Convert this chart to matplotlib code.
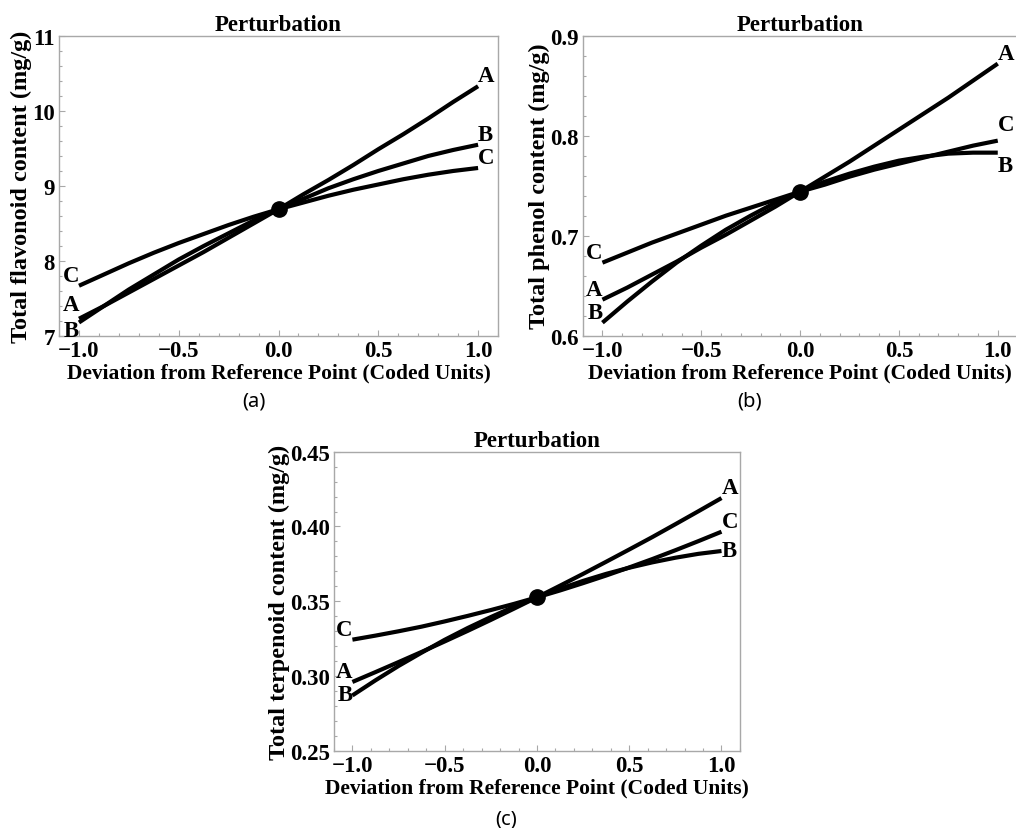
import matplotlib
matplotlib.use("Agg")
import matplotlib.pyplot as plt
from matplotlib.ticker import AutoMinorLocator

# coded deviation from the reference point
x_coded = [-1.0, -0.875, -0.75, -0.625, -0.5, -0.375, -0.25, -0.125, 0.0,
           0.125, 0.25, 0.375, 0.5, 0.625, 0.75, 0.875, 1.0]

# (a) total flavonoid content, mg/g
flav_A = [7.23, 7.40, 7.58, 7.76, 7.94, 8.12, 8.31, 8.50, 8.69,
          8.89, 9.08, 9.28, 9.49, 9.69, 9.90, 10.12, 10.33]
flav_B = [7.18, 7.40, 7.62, 7.82, 8.02, 8.20, 8.37, 8.54, 8.69,
          8.83, 8.97, 9.09, 9.20, 9.30, 9.40, 9.48, 9.55]
flav_C = [7.67, 7.82, 7.97, 8.11, 8.24, 8.36, 8.48, 8.59, 8.69,
          8.78, 8.87, 8.95, 9.02, 9.09, 9.15, 9.20, 9.24]

# (b) total phenol content, mg/g
phen_A = [0.636, 0.648, 0.661, 0.674, 0.688, 0.701, 0.715, 0.729, 0.744,
          0.759, 0.774, 0.790, 0.806, 0.822, 0.838, 0.855, 0.872]
phen_B = [0.613, 0.634, 0.654, 0.673, 0.690, 0.706, 0.720, 0.733, 0.744,
          0.754, 0.762, 0.769, 0.775, 0.779, 0.782, 0.783, 0.783]
phen_C = [0.673, 0.683, 0.693, 0.702, 0.711, 0.720, 0.728, 0.736, 0.744,
          0.751, 0.759, 0.766, 0.772, 0.778, 0.784, 0.790, 0.795]

# (c) total terpenoid content, mg/g
terp_A = [0.2960, 0.3026, 0.3093, 0.3161, 0.3231, 0.3302, 0.3375, 0.3450, 0.3526,
          0.3604, 0.3683, 0.3764, 0.3846, 0.3929, 0.4015, 0.4102, 0.4190]
terp_B = [0.2870, 0.2971, 0.3067, 0.3156, 0.3242, 0.3321, 0.3394, 0.3463, 0.3526,
          0.3583, 0.3636, 0.3683, 0.3724, 0.3760, 0.3791, 0.3817, 0.3836]
terp_C = [0.3243, 0.3270, 0.3299, 0.3330, 0.3365, 0.3402, 0.3441, 0.3482, 0.3526,
          0.3572, 0.3621, 0.3672, 0.3726, 0.3782, 0.3841, 0.3902, 0.3965]

ref_point = {"a": 8.69, "b": 0.744, "c": 0.3526}

SERIF = "Liberation Serif"
GRAY = "#a8a8a8"

fig = plt.figure(figsize=(10.16, 8.29), dpi=100)


def panel(rect, series, ylim, yticks, ylabel, yfmt, ref, label_style):
    ax = fig.add_axes(rect)
    for name, ys in series.items():
        ax.plot(x_coded, ys, color="black", lw=3, solid_capstyle="butt")
    ax.plot([0], [ref], "o", color="black", ms=11, zorder=5)

    # A/B/C labels at both ends of each curve
    for name, ys in series.items():
        for end, xi, yi in (("L", x_coded[0], ys[0]), ("R", x_coded[-1], ys[-1])):
            ha, va, dy = label_style.get((name, end), ("right" if end == "L" else "left", "bottom", 0))
            ax.annotate(name, (xi, yi), xytext=(0, dy), textcoords="offset points",
                        ha=ha, va=va, fontsize=16.5, fontweight="bold", family=SERIF)

    ax.set_xlim(-1.1, 1.1)
    ax.set_ylim(*ylim)
    ax.set_xticks([-1.0, -0.5, 0.0, 0.5, 1.0])
    ax.set_xticklabels(["\u22121.0", "\u22120.5", "0.0", "0.5", "1.0"])
    ax.set_yticks(yticks)
    ax.set_yticklabels([yfmt.format(v) for v in yticks])
    ax.xaxis.set_minor_locator(AutoMinorLocator(5))
    ax.yaxis.set_minor_locator(AutoMinorLocator(5))
    ax.tick_params(which="both", direction="in", color=GRAY, width=0.8)
    ax.tick_params(which="major", length=4, pad=3)
    ax.tick_params(which="minor", length=2)
    for lab in ax.get_xticklabels() + ax.get_yticklabels():
        lab.set_fontfamily(SERIF)
        lab.set_fontweight("bold")
        lab.set_fontsize(16.5)
    for sp in ax.spines.values():
        sp.set_color(GRAY)
        sp.set_linewidth(1.0)

    ax.set_title("Perturbation", fontsize=16.5, fontweight="bold", family=SERIF, pad=4)
    ax.set_xlabel("Deviation from Reference Point (Coded Units)", fontsize=15.5,
                  fontweight="bold", family=SERIF, labelpad=1)
    ax.set_ylabel(ylabel, fontsize=17.5, fontweight="bold", family=SERIF, labelpad=0)
    return ax


panel([0.0581, 0.5935, 0.4321, 0.3619],
      {"A": flav_A, "B": flav_B, "C": flav_C},
      (7, 11), [7, 8, 9, 10, 11], "Total flavonoid content (mg/g)", "{:g}", ref_point["a"],
      {("A", "L"): ("right", "bottom", 3), ("B", "L"): ("right", "top", 2)})

panel([0.5735, 0.5939, 0.4280, 0.3619],
      {"A": phen_A, "B": phen_B, "C": phen_C},
      (0.6, 0.9), [0.6, 0.7, 0.8, 0.9], "Total phenol content (mg/g)", "{:.1f}", ref_point["b"],
      {("C", "R"): ("left", "bottom", 4), ("B", "R"): ("left", "top", -2)})

panel([0.3287, 0.0932, 0.3996, 0.3607],
      {"A": terp_A, "B": terp_B, "C": terp_C},
      (0.25, 0.45), [0.25, 0.30, 0.35, 0.40, 0.45], "Total terpenoid content (mg/g)", "{:.2f}",
      ref_point["c"],
      {("B", "R"): ("left", "center", 0), ("B", "L"): ("right", "top", 8)})

for txt, xp, yp in (("(a)", 254, 402), ("(b)", 750, 402), ("(c)", 506, 820)):
    fig.text(xp / 1016, 1 - yp / 829, txt, ha="center", va="center",
             fontsize=14.5, family="Noto Sans")

fig.savefig("out.png", dpi=100)
